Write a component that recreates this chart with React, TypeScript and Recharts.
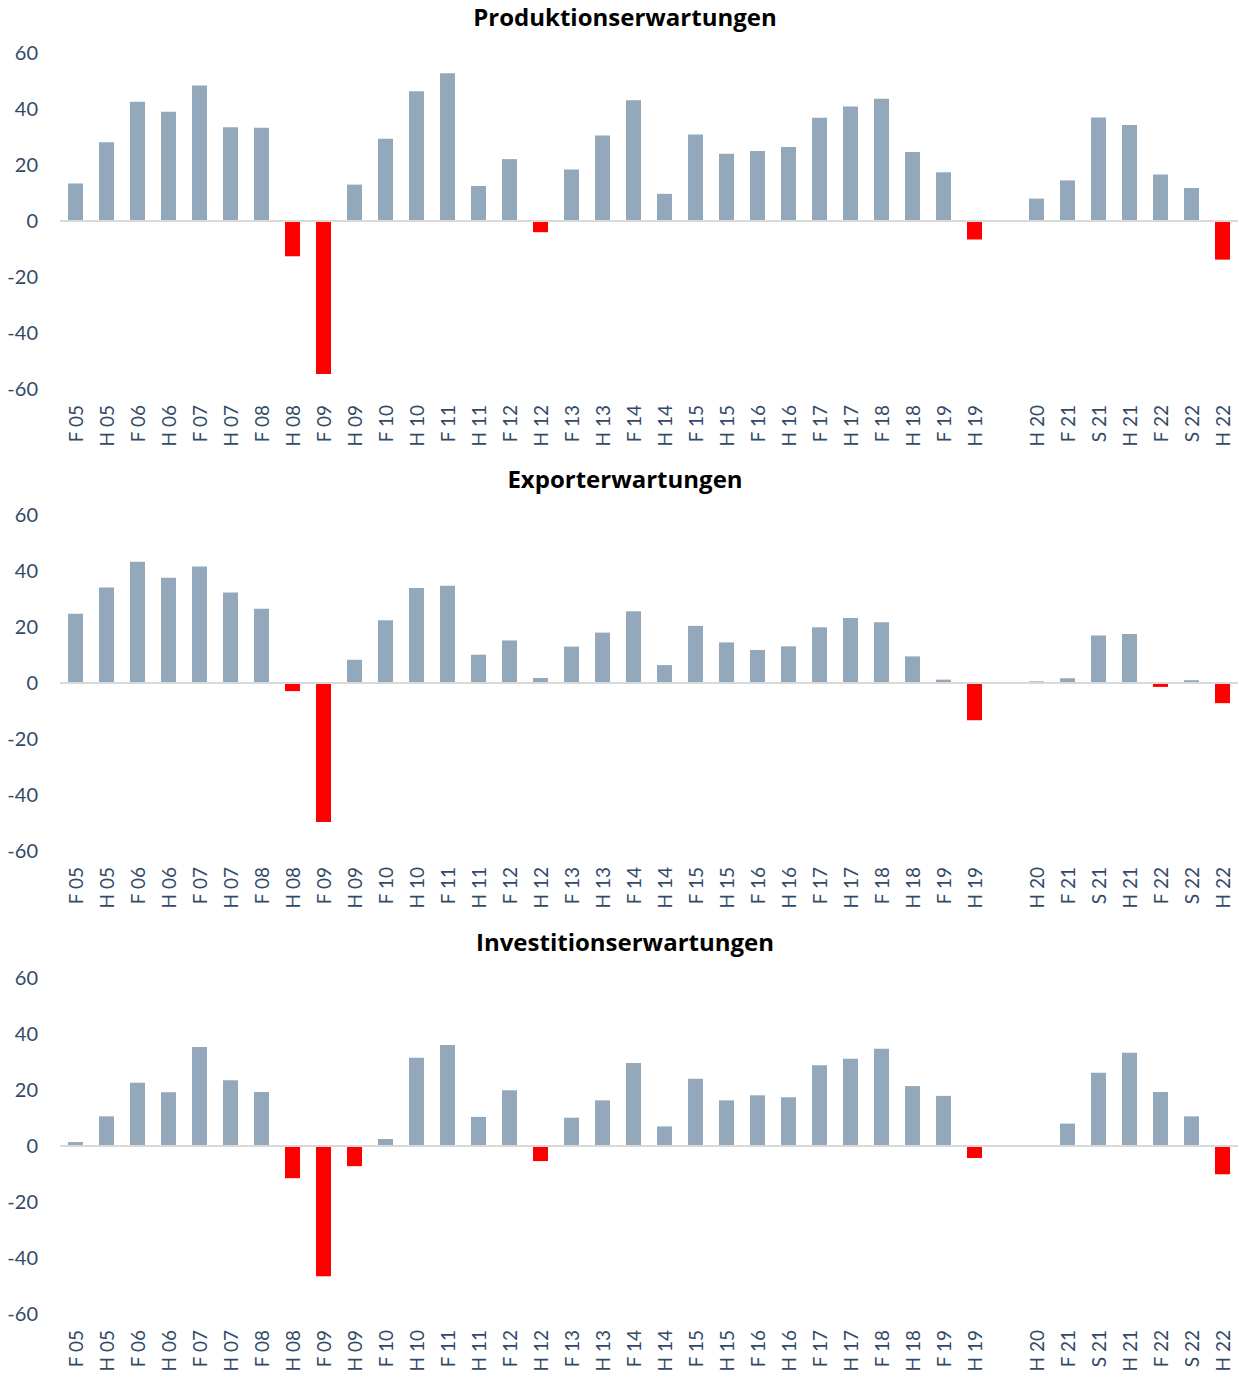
import { BarChart, Bar, XAxis, YAxis, Cell, ReferenceLine } from 'recharts'

const categories = [
    'F 05', 'H 05', 'F 06', 'H 06', 'F 07', 'H 07', 'F 08', 'H 08', 'F 09', 'H 09',
    'F 10', 'H 10', 'F 11', 'H 11', 'F 12', 'H 12', 'F 13', 'H 13', 'F 14', 'H 14',
    'F 15', 'H 15', 'F 16', 'H 16', 'F 17', 'H 17', 'F 18', 'H 18', 'F 19', 'H 19',
    '', 'H 20', 'F 21', 'S 21', 'H 21', 'F 22', 'S 22', 'H 22',
]

const produktion = [
    13.4, 28.1, 42.6, 39.0, 48.4, 33.5, 33.3, -12.6, -54.6, 13.0,
    29.4, 46.3, 52.8, 12.5, 22.1, -4.0, 18.4, 30.5, 43.1, 9.7,
    30.9, 24.0, 25.0, 26.4, 36.9, 40.9, 43.7, 24.6, 17.4, -6.6,
    null, 8.0, 14.5, 37.0, 34.3, 16.6, 11.8, -13.8,
]

const export_ = [
    24.7, 34.1, 43.3, 37.6, 41.6, 32.3, 26.5, -2.9, -49.6, 8.3,
    22.4, 33.9, 34.7, 10.1, 15.2, 1.8, 13.0, 18.0, 25.6, 6.4,
    20.4, 14.5, 11.8, 13.1, 19.9, 23.2, 21.7, 9.5, 1.2, -13.3,
    null, 0.6, 1.7, 17.0, 17.5, -1.4, 1.0, -7.2,
]

const investition = [
    1.4, 10.6, 22.6, 19.2, 35.4, 23.5, 19.3, -11.5, -46.5, -7.2,
    2.5, 31.5, 36.1, 10.4, 19.9, -5.4, 10.1, 16.3, 29.6, 7.0,
    24.0, 16.3, 18.1, 17.4, 28.8, 31.2, 34.7, 21.4, 17.9, -4.3,
    null, null, 8.0, 26.2, 33.3, 19.3, 10.6, -10.1,
]

const yTicks = [-60, -40, -20, 0, 20, 40, 60]

const TEXT = '#334A66'
const FONT = 'Lato, "Open Sans", sans-serif'

function XTick({ x, y, payload }: any) {
    return (
        <text
            x={x}
            y={y + 16}
            transform={`rotate(-90, ${x}, ${y + 16})`}
            textAnchor="end"
            dominantBaseline="central"
            fill={TEXT}
            fontSize={19}
            fontFamily={FONT}
        >
            {payload.value}
        </text>
    )
}

function Panel({ title, values, height }: { title: string; values: (number | null)[]; height: number }) {
    const data = categories.map((c, i) => ({ name: c, value: values[i] }))
    return (
        <div style={{ position: 'relative', width: 1240, height }}>
            <div
                style={{
                    position: 'absolute',
                    top: 1,
                    left: 0,
                    width: 1250,
                    textAlign: 'center',
                    fontFamily: '"Open Sans", sans-serif',
                    fontWeight: 700,
                    fontSize: 24,
                    color: '#000',
                    lineHeight: '32px',
                }}
            >
                {title}
            </div>
            <BarChart width={1240} height={height} data={data} margin={{ top: 53, right: 2, bottom: 0, left: 0 }}>
                <XAxis
                    dataKey="name"
                    interval={0}
                    axisLine={false}
                    tickLine={false}
                    tickSize={0}
                    tickMargin={0}
                    height={height - 389}
                    tick={<XTick />}
                />
                <YAxis
                    domain={[-60, 60]}
                    ticks={yTicks}
                    width={60}
                    axisLine={false}
                    tickLine={false}
                    tickSize={0}
                    tickMargin={22}
                    tick={{ fill: TEXT, fontSize: 20, fontFamily: FONT }}
                />
                <Bar dataKey="value" barSize={15} isAnimationActive={false}>
                    {data.map((d, i) => (
                        <Cell key={i} fill={d.value !== null && d.value < 0 ? '#FF0000' : '#94A8BB'} />
                    ))}
                </Bar>
                <ReferenceLine y={0} stroke="#D9D9D9" strokeWidth={2} />
            </BarChart>
        </div>
    )
}

export default function App() {
    return (
        <div style={{ position: 'absolute', left: 0, top: 0, width: 1240, background: '#fff' }}>
            <Panel title="Produktionserwartungen" values={produktion} height={462} />
            <Panel title="Exporterwartungen" values={export_} height={463} />
            <Panel title="Investitionserwartungen" values={investition} height={453} />
        </div>
    )
}
